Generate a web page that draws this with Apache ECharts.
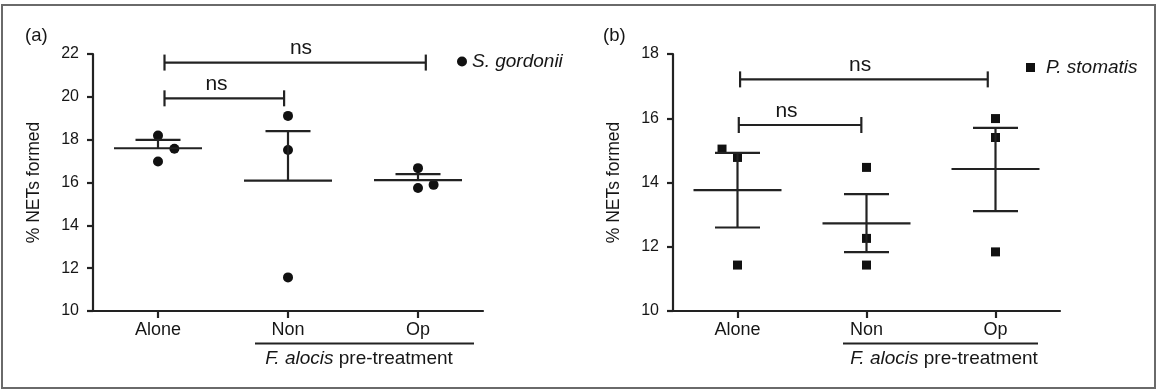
<!DOCTYPE html>
<html>
<head>
<meta charset="utf-8">
<script src="https://cdn.jsdelivr.net/npm/echarts@6/dist/echarts.min.js"></script>
<style>
  html, body { margin: 0; padding: 0; background: #fff; }
  #chart { width: 1157px; height: 391px; }
</style>
</head>
<body>
<div id="chart"></div>
<script>
// ---------------- DATA ----------------
const categories = ['Alone', 'Non', 'Op'];

// Panel (a): S. gordonii
const gordoniiAlone = [18.19, 17.58, 16.98];
const gordoniiNon   = [19.11, 17.52, 11.57];
const gordoniiOp    = [16.67, 15.89, 15.74];
const gordoniiMean    = [17.60, 16.09, 16.11];
const gordoniiSemHigh = [17.99, 18.40, 16.39];
const gordoniiYTicks  = [10, 12, 14, 16, 18, 20, 22];

// Panel (b): P. stomatis
const stomatisAlone = [15.04, 14.78, 11.43];
const stomatisNon   = [14.47, 12.26, 11.43];
const stomatisOp    = [15.99, 15.40, 11.84];
const stomatisMean    = [13.76, 12.73, 14.42];
const stomatisSemHigh = [14.92, 13.64, 15.70];
const stomatisSemLow  = [12.60, 11.83, 13.11];
const stomatisYTicks  = [10, 12, 14, 16, 18];

// significance brackets: [from (category units), to, height, label x]
const gordoniiBrackets = [[0.55, 2.56, 21.60, 1.60], [0.55, 1.47, 19.93, 0.95]];
const stomatisBrackets = [[0.52, 2.44, 17.21, 1.45], [0.51, 1.46, 15.79, 0.88]];
const bracketLabel = 'ns';

// ---------------- LAYOUT / STYLE ----------------
const INK = '#222';
const TXT = '#161616';
const FONT = '"Liberation Sans", Arial, Helvetica, sans-serif';
const LW = 2.2;
// horizontal jitter of the individual points (category units)
const jitterA = [[0, 0.126, 0], [0, 0, 0], [0, 0.12, 0]];
const jitterB = [[-0.12, 0, 0], [0, 0, 0], [0, 0, 0]];

function pts(groups, jitter) {
  const out = [];
  groups.forEach((g, ci) => g.forEach((v, k) => out.push([ci + 0.5 + jitter[ci][k], v])));
  return out;
}

function errData(mean, hi, lo) {
  return mean.map((m, i) => [i, m, hi[i], lo ? lo[i] : m]);
}

function errRender(params, api) {
  const c = api.coord([api.value(0), api.value(1)]);
  const hi = api.coord([api.value(0), api.value(2)]);
  const lo = api.coord([api.value(0), api.value(3)]);
  const x = c[0];
  const st = { stroke: INK, lineWidth: LW };
  const ch = [
    { type: 'line', shape: { x1: x - 44, y1: c[1], x2: x + 44, y2: c[1] }, style: st },
    { type: 'line', shape: { x1: x, y1: hi[1], x2: x, y2: lo[1] }, style: st },
    { type: 'line', shape: { x1: x - 22.5, y1: hi[1], x2: x + 22.5, y2: hi[1] }, style: st }
  ];
  if (Math.abs(lo[1] - c[1]) > 0.5) {
    ch.push({ type: 'line', shape: { x1: x - 22.5, y1: lo[1], x2: x + 22.5, y2: lo[1] }, style: st });
  }
  return { type: 'group', children: ch };
}

function bracketRender(params, api) {
  const a = api.coord([api.value(0), api.value(2)]);
  const b = api.coord([api.value(1), api.value(2)]);
  const t = api.coord([api.value(3), api.value(2)]);
  const st = { stroke: INK, lineWidth: LW };
  return {
    type: 'group',
    children: [
      { type: 'line', shape: { x1: a[0], y1: a[1], x2: b[0], y2: b[1] }, style: st },
      { type: 'line', shape: { x1: a[0], y1: a[1] - 8, x2: a[0], y2: a[1] + 8 }, style: st },
      { type: 'line', shape: { x1: b[0], y1: b[1] - 8, x2: b[0], y2: b[1] + 8 }, style: st },
      { type: 'text', style: { text: bracketLabel, x: t[0], y: t[1] - 14, align: 'center', verticalAlign: 'middle',
        font: '21px ' + FONT, fill: TXT } }
    ]
  };
}

function yAxis(gi, ticks) {
  return {
    type: 'value', gridIndex: gi, min: ticks[0], max: ticks[ticks.length - 1], interval: 2,
    axisLine: { show: true, lineStyle: { color: INK, width: LW } },
    axisTick: { show: true, length: 6, lineStyle: { color: INK, width: LW } },
    axisLabel: { margin: 14, fontSize: 16, color: TXT, fontFamily: FONT },
    splitLine: { show: false },
    name: '% NETs formed', nameLocation: 'middle', nameGap: 50, nameRotate: 90,
    nameTextStyle: { fontSize: 17.5, color: TXT, fontFamily: FONT }
  };
}

function xCat(gi) {
  return {
    type: 'category', gridIndex: gi, data: categories, boundaryGap: true,
    axisLine: { show: true, lineStyle: { color: INK, width: LW } },
    axisTick: { show: true, alignWithLabel: true, length: 7, lineStyle: { color: INK, width: LW } },
    axisLabel: { margin: 10, fontSize: 18, color: TXT, fontFamily: FONT },
    splitLine: { show: false }
  };
}
function xVal(gi) {
  return { type: 'value', gridIndex: gi, min: 0, max: 3, show: false, splitLine: { show: false } };
}

const chart = echarts.init(document.getElementById('chart'), null, { renderer: 'canvas' });

const richItalic = { i: { fontStyle: 'italic', fontSize: 19, fontFamily: FONT, fill: TXT } };

const option = {
  animation: false,
  backgroundColor: '#fff',
  textStyle: { fontFamily: FONT },
  grid: [
    { left: 93, top: 54, width: 390, height: 257 },
    { left: 673, top: 54, width: 387, height: 257 }
  ],
  xAxis: [xCat(0), xVal(0), xCat(1), xVal(1)],
  yAxis: [yAxis(0, gordoniiYTicks), yAxis(1, stomatisYTicks)],
  legend: [
    { data: ['S. gordonii'], left: 457, top: 52, padding: 0, itemWidth: 10, itemHeight: 10, icon: 'circle',
      textStyle: { fontSize: 19, fontStyle: 'italic', color: TXT, fontFamily: FONT, padding: [0, 0, 0, 0] } },
    { data: ['P. stomatis'], left: 1026, top: 58, padding: 0, itemWidth: 9, itemHeight: 9, icon: 'rect',
      textStyle: { fontSize: 19, fontStyle: 'italic', color: TXT, fontFamily: FONT, padding: [0, 0, 0, 6] } }
  ],
  series: [
    { name: 'S. gordonii', type: 'scatter', xAxisIndex: 1, yAxisIndex: 0, symbol: 'circle', symbolSize: 10,
      itemStyle: { color: '#111', opacity: 1 }, data: pts([gordoniiAlone, gordoniiNon, gordoniiOp], jitterA), z: 3 },
    { type: 'custom', xAxisIndex: 0, yAxisIndex: 0, renderItem: errRender,
      data: errData(gordoniiMean, gordoniiSemHigh, null), z: 4, silent: true },
    { type: 'custom', xAxisIndex: 1, yAxisIndex: 0, renderItem: bracketRender, data: gordoniiBrackets, z: 4, silent: true },

    { name: 'P. stomatis', type: 'scatter', xAxisIndex: 3, yAxisIndex: 1, symbol: 'rect', symbolSize: 9,
      itemStyle: { color: '#111', opacity: 1 }, data: pts([stomatisAlone, stomatisNon, stomatisOp], jitterB), z: 3 },
    { type: 'custom', xAxisIndex: 2, yAxisIndex: 1, renderItem: errRender,
      data: errData(stomatisMean, stomatisSemHigh, stomatisSemLow), z: 4, silent: true },
    { type: 'custom', xAxisIndex: 3, yAxisIndex: 1, renderItem: bracketRender, data: stomatisBrackets, z: 4, silent: true }
  ],
  graphic: [
    { type: 'rect', shape: { x: 2, y: 5, width: 1153, height: 383 }, style: { fill: null, stroke: '#6a6a6a', lineWidth: 2 }, silent: true },
    { type: 'text', left: 25, top: 26, style: { text: '(a)', font: '18.5px ' + FONT, fill: TXT } },
    { type: 'text', left: 603, top: 26, style: { text: '(b)', font: '18.5px ' + FONT, fill: TXT } },
    { type: 'line', shape: { x1: 255, y1: 343.5, x2: 474, y2: 343.5 }, style: { stroke: INK, lineWidth: LW } },
    { type: 'line', shape: { x1: 843, y1: 343.5, x2: 1038, y2: 343.5 }, style: { stroke: INK, lineWidth: LW } },
    { type: 'text', x: 359, y: 359, style: { text: '{i|F. alocis} pre-treatment', align: 'center', verticalAlign: 'middle',
      font: '19px ' + FONT, fill: TXT, rich: richItalic } },
    { type: 'text', x: 944, y: 359, style: { text: '{i|F. alocis} pre-treatment', align: 'center', verticalAlign: 'middle',
      font: '19px ' + FONT, fill: TXT, rich: richItalic } }
  ]
};
chart.setOption(option);
</script>
</body>
</html>
